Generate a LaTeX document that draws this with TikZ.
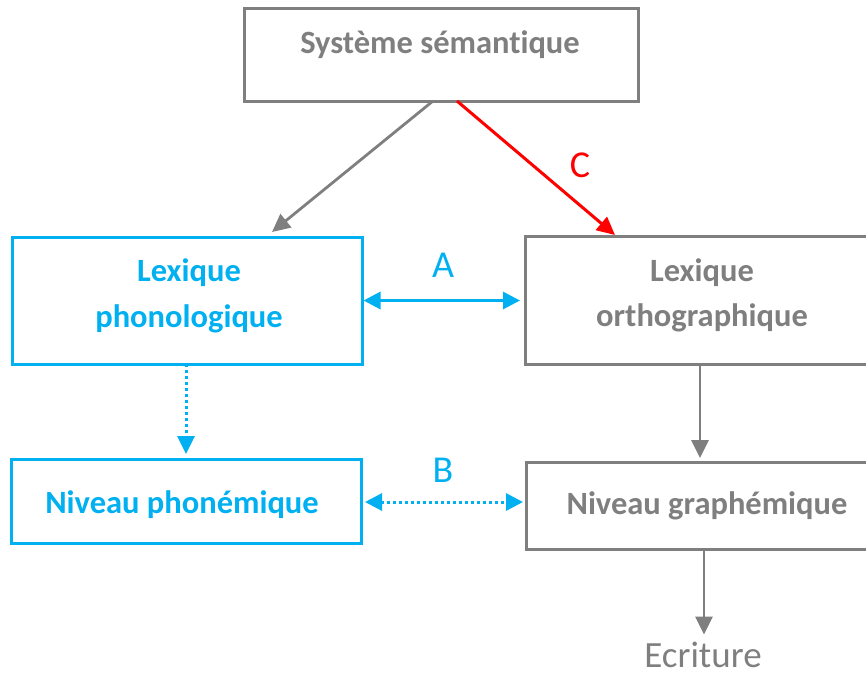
\documentclass[tikz,border=0pt]{standalone}
\usepackage{fontspec}
\setmainfont{Carlito}[Ligatures=NoCommon]
\usetikzlibrary{arrows.meta}
\definecolor{cblue}{HTML}{00B0F0}
\definecolor{cgray}{HTML}{7F7F7F}
\definecolor{cred}{HTML}{FF0000}
\tikzset{
  boxs/.style={draw, line width=3pt, inner sep=0pt, outer sep=0pt, fill=none},
  txt/.style={inner sep=0pt, outer sep=0pt, anchor=base, font=\fontsize{32.5}{40}\selectfont\bfseries},
  lett/.style={inner sep=0pt, outer sep=0pt, anchor=base, font=\fontsize{38}{44}\selectfont},
  arr/.style={line width=3pt, -{Triangle[length=18pt,width=17pt]}},
  darr/.style={line width=3pt, {Triangle[length=17pt,width=17pt]}-{Triangle[length=17pt,width=17pt]}},
  dotl/.style={dash pattern=on 3pt off 3pt}
}
\begin{document}
\begin{tikzpicture}[x=1pt,y=-1pt]
\useasboundingbox (0,0) rectangle (866,675);
% boxes
\node[boxs, cgray, minimum width=394pt, minimum height=93pt] (sem) at (441,54.5) {};
\node[boxs, cblue, minimum width=350pt, minimum height=127pt] (lp) at (187,300.5) {};
\node[boxs, cgray, minimum width=354pt, minimum height=128pt] (lo) at (702,300) {};
\node[boxs, cblue, minimum width=350pt, minimum height=84pt] (np) at (186,501) {};
\node[boxs, cgray, minimum width=362pt, minimum height=87pt] (ng) at (707,505.5) {};
% texts
\node[txt, text=cgray] (tsem) at (440,53.5) {Système sémantique};
\node[txt, text=cblue] (tlp1) at (189,281) {Lexique};
\node[txt, text=cblue] (tlp2) at (189,327) {phonologique};
\node[txt, text=cgray] (tlo1) at (702,281) {Lexique};
\node[txt, text=cgray] (tlo2) at (702,326) {orthographique};
\node[txt, text=cblue] (tnp) at (182,513) {Niveau phonémique};
\node[txt, text=cgray] (tng) at (707,514) {Niveau graphémique};
\node[lett, text=cgray, font=\fontsize{37}{44}\selectfont] (ecr) at (703,667) {Ecriture};
% arrows
\draw[arr, cgray, line width=2.8pt] ([xshift=-8pt]sem.south) -- ([xshift=260pt,yshift=5pt]lp.north west);
\draw[arr, cred] ([xshift=16pt]sem.south) -- ([xshift=90pt,yshift=1pt]lo.north west);
\node[lett, text=cred] (lc) at (580,177) {C};
\draw[darr, cblue, shorten <=1.5pt, shorten >=5pt] (lp.east) -- (lp.east -| lo.west);
\node[lett, text=cblue] (la) at (443,277) {A};
\draw[darr, cblue, dotl, shorten <=4pt, shorten >=3pt] ([yshift=-1pt]np.east) -- ([yshift=-1pt]np.east -| ng.west);
\node[lett, text=cblue] (lb) at (443,482) {B};
\draw[arr, cblue, dotl, shorten >=5pt] ([xshift=-1pt]lp.south) -- ([xshift=-1pt]lp.south |- np.north);
\draw[arr, cgray, line width=2.8pt, shorten >=4pt] ([xshift=-2pt]lo.south) -- ([xshift=-2pt]lo.south |- ng.north);
\draw[arr, cgray, line width=2.8pt, shorten >=7pt] ([xshift=-3pt]ng.south) -- ([xshift=-3pt]ng.south |- ecr.north);
\end{tikzpicture}
\end{document}
